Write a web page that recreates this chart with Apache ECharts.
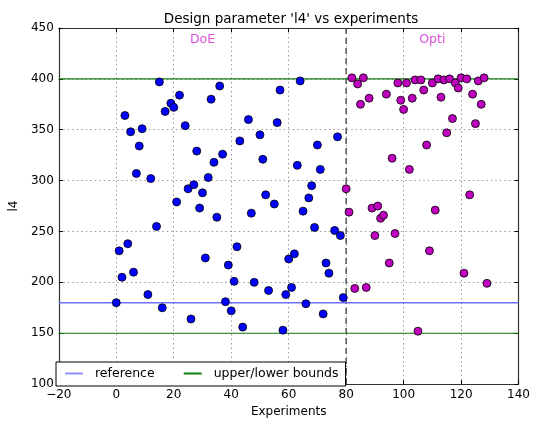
<!DOCTYPE html>
<html><head><meta charset="utf-8">
<script src="https://cdn.jsdelivr.net/npm/echarts@6/dist/echarts.min.js"></script>
<style>html,body{margin:0;padding:0;background:#fff}#c{width:533px;height:423px}</style>
</head><body><div id="c"></div>
<script>
const doeX = [0,1,2,3,4,5,6,7,8,9,11,12,14,15,16,17,19,20,21,22,24,25,26,27,28,29,30,31,32,33,34,35,36,37,38,39,40,41,42,43,44,46,47,48,50,51,52,53,55,56,57,58,59,60,61,62,63,64,65,66,67,68,69,70,71,72,73,74,76,77,78,79];
const doeY = [180,231,205,364,238,348,210,307,334,351,188,302,255,397,175,368,376,372,279,384,354,292,164,296,329,273,288,224,303,380,318,264,393,326,181,217,172,201,235,339,156,360,268,200,345,321,286,192,277,357,389,153,188,223,195,228,315,398,270,179,283,295,254,335,311,169,219,209,251,343,246,185];
const optiX = [80,81,82,83,84,85,86,87,88,89,90,91,92,93,94,95,96,97,98,99,100,101,102,103,104,105,106,107,108,109,110,111,112,113,114,115,116,117,118,119,120,121,122,123,124,125,126,127,128,129];
const optiY = [292,269,401,194,395,375,401,195,381,273,246,275,263,266,385,219,322,248,396,379,370,396,311,381,399,152,399,389,335,231,396,271,400,382,399,347,400,361,396,391,401,209,400,286,385,356,398,375,401,199];
const referenceValue = 180;
const lowerBound = 150;
const upperBound = 400;
const splitX = 80;
const xRange = [-20, 140];
const yRange = [100, 450];
const annotations = [{text:'DoE', x:30, y:438},{text:'Opti', x:110, y:438}];

const FONT = 'DejaVu Sans';
const chart = echarts.init(document.getElementById('c'), null, {renderer:'canvas'});
const minus = v => String(v).replace('-', '\u2212');
const gridLine = {show:true, lineStyle:{color:'#999999', type:[1.5,3], width:1}};
const baseAxis = (extra) => Object.assign({
  type:'value',
  axisLine:{show:true, onZero:false, lineStyle:{color:'#333', width:1.2}},
  axisTick:{show:true, inside:true, length:4, lineStyle:{color:'#000'}},
  splitLine:{show:false}
}, extra);

chart.setOption({
  animation:false,
  backgroundColor:'#fff',
  title:{text:"Design parameter 'l4' vs experiments", left:286, top:7, textAlign:'center',
    textStyle:{fontFamily:FONT, fontSize:13.5, fontWeight:'normal', color:'#000'}},
  grid:{left:50, right:11, top:28, bottom:32},
  legend:{
    data:[{name:'reference', icon:'rect'},{name:'upper/lower bounds', icon:'rect'}], left:56, top:362, orient:'horizontal',
    itemWidth:18, itemHeight:2, itemGap:29,
    padding:[5,7,6,9], borderColor:'#000', borderWidth:1, borderRadius:0, backgroundColor:'#fff',
    textStyle:{fontFamily:FONT, fontSize:12.5, color:'#000', padding:[0,0,0,7]}
  },
  xAxis:[
    baseAxis({min:xRange[0], max:xRange[1], interval:20, position:'bottom',
      name:'Experiments', nameLocation:'middle', nameGap:21,
      nameTextStyle:{fontFamily:FONT, fontSize:12, color:'#000'},
      axisLabel:{fontFamily:FONT, fontSize:12, color:'#000', margin:5, formatter:minus},
      splitLine:gridLine}),
    baseAxis({min:xRange[0], max:xRange[1], interval:20, position:'top', axisLabel:{show:false}})
  ],
  yAxis:[
    baseAxis({min:yRange[0], max:yRange[1], interval:50, position:'left',
      name:'l4', nameLocation:'middle', nameGap:36,
      nameTextStyle:{fontFamily:FONT, fontSize:12, color:'#000'},
      axisLabel:{fontFamily:FONT, fontSize:12, color:'#000', margin:5},
      splitLine:gridLine}),
    baseAxis({min:yRange[0], max:yRange[1], interval:50, position:'right', axisLabel:{show:false}})
  ],
  series:[
    {type:'line', name:'split', data:[[splitX, yRange[0]],[splitX, yRange[1]]], symbol:'none', silent:true,
      lineStyle:{color:'#555', width:1.5, type:[6,4]}, z:2},
    {type:'line', name:'reference', data:[[xRange[0], referenceValue],[xRange[1], referenceValue]], symbol:'none',
      lineStyle:{color:'#7070ff', width:1.5}, itemStyle:{color:'#9090ff'}, z:2},
    {type:'line', name:'upper/lower bounds', data:[[xRange[0], lowerBound],[xRange[1], lowerBound]], symbol:'none',
      lineStyle:{color:'#108010', width:1.2}, itemStyle:{color:'#108010'}, z:2},
    {type:'line', name:'upper/lower bounds', data:[[xRange[0], upperBound],[xRange[1], upperBound]], symbol:'none',
      lineStyle:{color:'#108010', width:1.2}, itemStyle:{color:'#108010'}, z:2},
    {type:'scatter', name:'DoE', data:doeX.map((x,i)=>[x, doeY[i]]), symbolSize:8,
      itemStyle:{color:'#0000ff', borderColor:'#000', borderWidth:0.8, opacity:1}, z:5},
    {type:'scatter', name:'Opti', data:optiX.map((x,i)=>[x, optiY[i]]), symbolSize:8,
      itemStyle:{color:'#bf00bf', borderColor:'#000', borderWidth:0.8, opacity:1}, z:5},
    {type:'scatter', name:'labels', data:annotations.map(a=>({value:[a.x,a.y], label:{formatter:a.text}})),
      symbolSize:0, silent:true,
      label:{show:true, position:'inside', fontFamily:FONT, fontSize:12.5, color:'#d020d0'}, z:6}
  ]
});
</script></body></html>
